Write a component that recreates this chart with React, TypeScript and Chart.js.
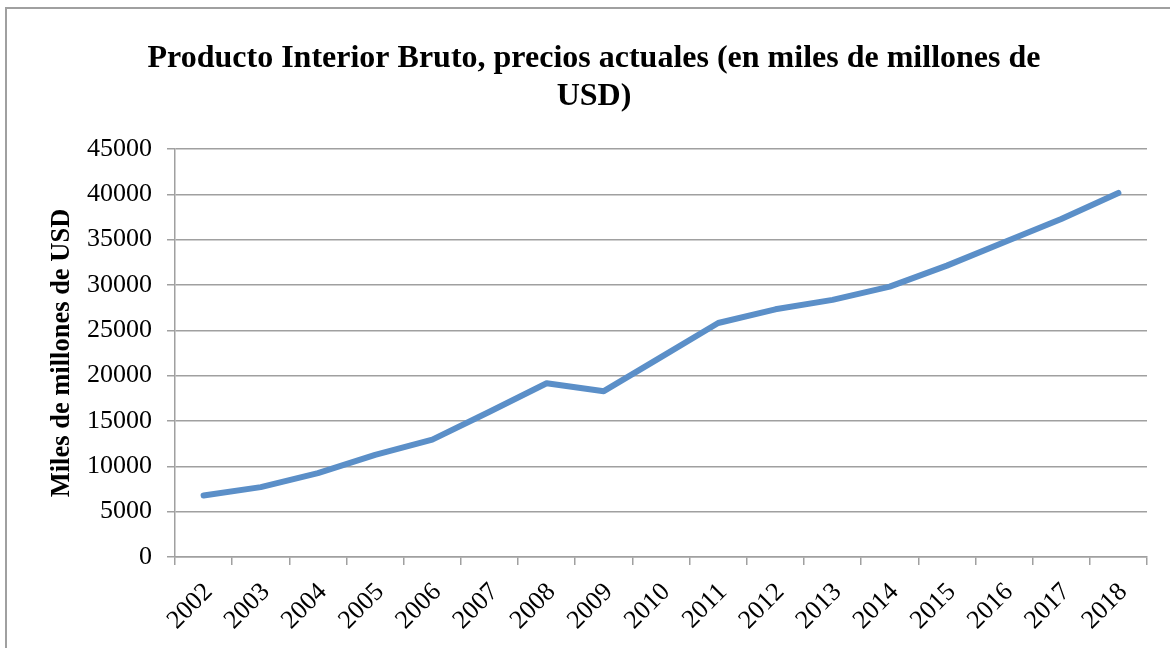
import React, { useEffect, useRef } from 'react';
import { Chart, registerables } from 'chart.js';

Chart.register(...registerables);

const years: string[] = ['2002', '2003', '2004', '2005', '2006', '2007', '2008', '2009', '2010', '2011', '2012', '2013', '2014', '2015', '2016', '2017', '2018'];
const gdp: number[] = [6780, 7710, 9250, 11270, 12940, 16020, 19170, 18290, 22040, 25810, 27320, 28360, 29820, 32140, 34710, 37280, 40150];
const yMin = 0;
const yMax = 45000;
const yStep = 5000;
const titleLines: string[] = ['Producto Interior Bruto, precios actuales (en miles de millones de', 'USD)'];
const yAxisTitle = 'Miles de millones de USD';

const SERIF = "'Liberation Serif', 'Times New Roman', serif";
const GRID = '#a0a0a0';

export default function App() {
  const ref = useRef<HTMLCanvasElement>(null);

  useEffect(() => {
    const chart = new Chart(ref.current as HTMLCanvasElement, {
      type: 'line',
      data: {
        labels: years,
        datasets: [
          {
            data: gdp,
            borderColor: '#5B8FC8',
            backgroundColor: '#5B8FC8',
            borderWidth: 6,
            pointRadius: 0,
            tension: 0,
            fill: false,
            borderCapStyle: 'round',
            borderJoinStyle: 'round',
          },
        ],
      },
      options: {
        animation: false,
        responsive: false,
        devicePixelRatio: 1,
        layout: { padding: { left: 41, right: 23, top: 10, bottom: 0 } },
        plugins: {
          legend: { display: false },
          tooltip: { enabled: false },
          title: {
            display: true,
            text: titleLines,
            color: '#000',
            font: { family: SERIF, size: 32, weight: 'bold', lineHeight: 38 / 32 },
            padding: { top: 30, bottom: 33 },
          },
        },
        scales: {
          x: {
            offset: true,
            grid: { offset: true, drawOnChartArea: false, drawTicks: true, tickLength: 8, color: GRID, lineWidth: 1.5 },
            border: { color: GRID, width: 1.5 },
            ticks: {
              minRotation: 45,
              maxRotation: 45,
              autoSkip: false,
              color: '#000',
              font: { family: SERIF, size: 26 },
              padding: 12,
              labelOffset: 5,
            },
            afterFit: (s: any) => {
              s.height = 91;
            },
          },
          y: {
            min: yMin,
            max: yMax,
            ticks: {
              stepSize: yStep,
              color: '#000',
              font: { family: SERIF, size: 26 },
              padding: 15,
              callback: (v: any) => String(v),
            },
            grid: { color: GRID, lineWidth: 1.5, tickLength: 8 },
            border: { color: GRID, width: 1.5 },
            title: {
              display: true,
              text: yAxisTitle,
              color: '#000',
              font: { family: SERIF, size: 26.5, weight: 'bold', lineHeight: 1.2 },
              padding: { top: 5, bottom: 0 },
            },
            afterFit: (s: any) => {
              s.width = 134;
            },
          },
        },
      },
    } as any);
    return () => chart.destroy();
  }, []);

  return (
    <div style={{ position: 'fixed', left: 0, top: 0, width: 1170, height: 648, overflow: 'hidden', background: '#fff' }}>
      <canvas ref={ref} width={1170} height={648} style={{ position: 'absolute', left: 0, top: 0, display: 'block' }} />
      <div
        style={{
          position: 'absolute',
          left: 5,
          top: 7,
          width: 1300,
          height: 800,
          border: `2px solid ${GRID}`,
          pointerEvents: 'none',
        }}
      />
    </div>
  );
}
